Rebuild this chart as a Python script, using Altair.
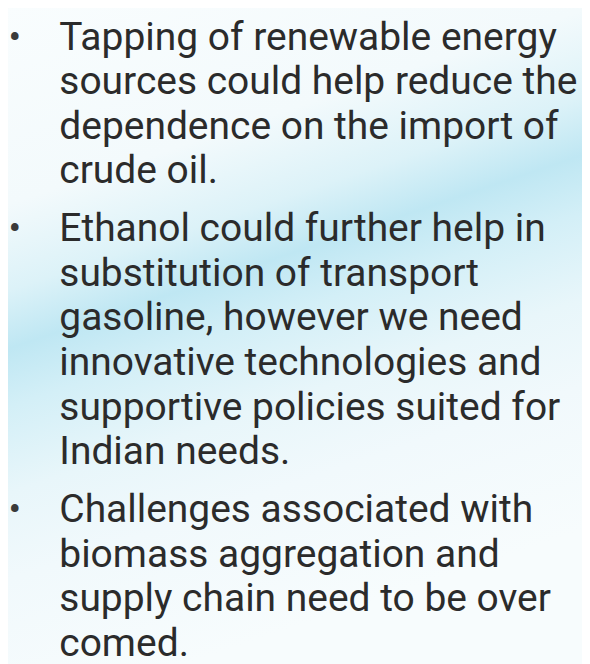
import altair as alt
import pandas as pd

# Slide text, one entry per rendered line
lines = [
    "Tapping of renewable energy",
    "sources could help reduce the",
    "dependence on the import of",
    "crude oil.",
    "Ethanol could further help in",
    "substitution of transport",
    "gasoline, however we need",
    "innovative technologies and",
    "supportive policies suited for",
    "Indian needs.",
    "Challenges associated with",
    "biomass aggregation and",
    "supply chain need to be over",
    "comed.",
]
bullet_of_line = [0, 0, 0, 0, 1, 1, 1, 1, 1, 1, 2, 2, 2, 2]
bullet_starts = [0, 4, 10]

df = pd.DataFrame({
    "line": list(range(len(lines))),
    "text": lines,
    "bullet": bullet_of_line,
})
bdf = pd.DataFrame({"line": bullet_starts, "bullet": [0, 1, 2], "text": ["•"] * 3})

W, H = 582, 656
yscale = alt.Scale(domain=[-0.83, 13.68], reverse=True, nice=False, zero=False)
base_y = alt.Y("pos:Q", scale=yscale, axis=None)
POS = "datum.line + 0.3 * datum.bullet"

bg = alt.Chart(pd.DataFrame({"k": [0]})).mark_rect(
    fill=alt.Gradient(
        gradient="linear", x1=0, y1=0, x2=0.3, y2=1,
        stops=[
            alt.GradientStop(offset=0.0, color="#f9fdfe"),
            alt.GradientStop(offset=0.28, color="#f3fafc"),
            alt.GradientStop(offset=0.40, color="#dcf2f8"),
            alt.GradientStop(offset=0.48, color="#bfe7f3"),
            alt.GradientStop(offset=0.56, color="#d3eff7"),
            alt.GradientStop(offset=0.68, color="#e8f6fa"),
            alt.GradientStop(offset=0.80, color="#f1f9fc"),
            alt.GradientStop(offset=1.0, color="#f7fcfd"),
        ],
    )
).encode(x=alt.value(-8), x2=alt.value(W + 8), y=alt.value(-8), y2=alt.value(H + 8))

txt = alt.Chart(df).transform_calculate(pos=POS).mark_text(
    align="left", baseline="alphabetic", font="Roboto", fontSize=39.5, color="#2b2b2b"
).encode(
    x=alt.value(52),
    y=base_y,
    text="text:N",
)

dots = alt.Chart(bdf).transform_calculate(pos=POS).mark_text(
    align="center", baseline="alphabetic", font="Roboto", fontSize=38, color="#3a3a3a"
).encode(
    x=alt.value(7),
    y=base_y,
    text="text:N",
)

chart = alt.layer(bg, txt, dots).properties(
    width=W, height=H,
    autosize=alt.AutoSizeParams(type="none"),
    padding=0,
).configure_view(stroke=None).configure(background="#f8fcfd")

chart.save("out.html", embed_options={"renderer": "svg", "actions": False})
